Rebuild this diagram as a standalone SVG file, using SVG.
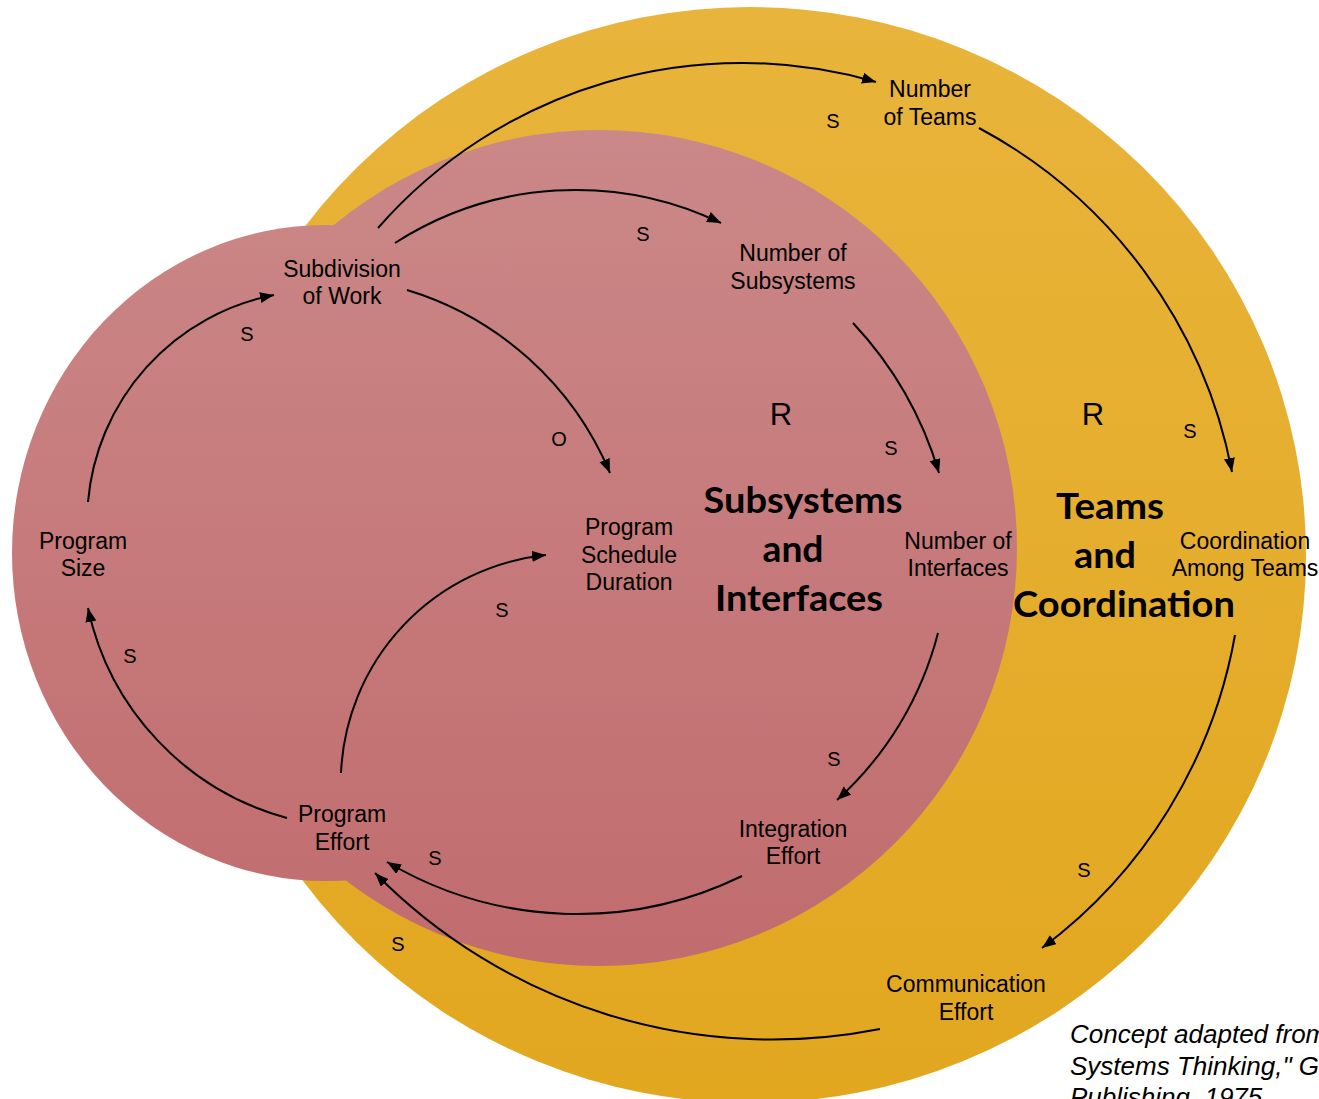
<svg xmlns="http://www.w3.org/2000/svg" width="1319" height="1099" viewBox="0 0 1319 1099">
<defs>
<linearGradient id="gy" gradientUnits="userSpaceOnUse" x1="0" y1="7" x2="0" y2="1103"><stop offset="0" stop-color="#E8B43B"/><stop offset="1" stop-color="#E2A71F"/></linearGradient>
<linearGradient id="gp" gradientUnits="userSpaceOnUse" x1="0" y1="130" x2="0" y2="966"><stop offset="0" stop-color="#CB8888"/><stop offset="1" stop-color="#C16C6E"/></linearGradient>
<marker id="ah" markerUnits="userSpaceOnUse" markerWidth="16" markerHeight="12" refX="14" refY="5.5" orient="auto"><path d="M0,0 L14,5.5 L0,11 z" fill="#000"/></marker>
<style>
.n{font-family:"Liberation Sans",Arial,sans-serif;font-size:23px;fill:#000;text-anchor:middle}
.p{font-family:"Liberation Sans",Arial,sans-serif;font-size:20px;fill:#000;text-anchor:middle}
.r{font-family:"Liberation Sans",Arial,sans-serif;font-size:31px;fill:#000;text-anchor:middle}
.t{font-family:Lato,"Open Sans",sans-serif;font-weight:bold;font-size:37px;fill:#000;text-anchor:middle}
.c{font-family:"Liberation Sans",Arial,sans-serif;font-style:italic;font-size:26px;fill:#000}
.k{fill:none;stroke:#000;stroke-width:2;marker-end:url(#ah)}
</style>
</defs>
<g id="background">
<ellipse cx="750" cy="555" rx="556" ry="548" fill="url(#gy)"/>
<circle cx="599" cy="548" r="418" fill="url(#gp)"/>
<ellipse cx="326" cy="553" rx="314" ry="328" fill="url(#gp)"/>
</g>
<g id="connectors">
<path class="k" d="M378,228 A483,483 0 0 1 876,82"/>
<path class="k" d="M979,128 A496,496 0 0 1 1232,472"/>
<path class="k" d="M1235,635 A499,499 0 0 1 1042,948"/>
<path class="k" d="M880,1029 A557,557 0 0 1 375,873"/>
<path class="k" d="M395,243 A335,335 0 0 1 721,223"/>
<path class="k" d="M407,290 A321,321 0 0 1 610,473"/>
<path class="k" d="M853,323 A375,375 0 0 1 939,473"/>
<path class="k" d="M938,633 A339,339 0 0 1 837,800"/>
<path class="k" d="M742,876 A375,375 0 0 1 387,862"/>
<path class="k" d="M341,773 A229,229 0 0 1 546,555"/>
<path class="k" d="M287,818 A278,278 0 0 1 88,608"/>
<path class="k" d="M88,502 A231,231 0 0 1 274,295"/>
</g>
<g id="polarity">
<text class="p" x="833" y="128">S</text>
<text class="p" x="643" y="241">S</text>
<text class="p" x="247" y="341">S</text>
<text class="p" x="891" y="455">S</text>
<text class="p" x="1190" y="438">S</text>
<text class="p" x="559" y="446">O</text>
<text class="p" x="502" y="617">S</text>
<text class="p" x="130" y="663">S</text>
<text class="p" x="834" y="766">S</text>
<text class="p" x="435" y="865">S</text>
<text class="p" x="398" y="951">S</text>
<text class="p" x="1084" y="877">S</text>
<text class="r" x="781" y="425">R</text>
<text class="r" x="1093" y="425">R</text>
</g>
<g id="loop-subsystems"><text class="t" x="803" y="513" textLength="199" lengthAdjust="spacingAndGlyphs">Subsystems</text><text class="t" x="793" y="562" textLength="61" lengthAdjust="spacingAndGlyphs">and</text><text class="t" x="799" y="611" textLength="168" lengthAdjust="spacingAndGlyphs">Interfaces</text></g>
<g id="loop-teams"><text class="t" x="1110" y="519" textLength="108" lengthAdjust="spacingAndGlyphs">Teams</text><text class="t" x="1105" y="568" textLength="62" lengthAdjust="spacingAndGlyphs">and</text><text class="t" x="1124" y="617" textLength="222" lengthAdjust="spacingAndGlyphs">Coordination</text></g>
<g id="number-of-teams"><text class="n" x="930" y="97">Number</text><text class="n" x="930" y="125">of Teams</text></g>
<g id="subdivision-of-work"><text class="n" x="342" y="277">Subdivision</text><text class="n" x="342" y="304">of Work</text></g>
<g id="number-of-subsystems"><text class="n" x="793" y="261">Number of</text><text class="n" x="793" y="289">Subsystems</text></g>
<g id="program-size"><text class="n" x="83" y="549">Program</text><text class="n" x="83" y="576">Size</text></g>
<g id="program-schedule-duration"><text class="n" x="629" y="535">Program</text><text class="n" x="629" y="563">Schedule</text><text class="n" x="629" y="590">Duration</text></g>
<g id="number-of-interfaces"><text class="n" x="958" y="549">Number of</text><text class="n" x="958" y="576">Interfaces</text></g>
<g id="coordination-among-teams"><text class="n" x="1245" y="549">Coordination</text><text class="n" x="1245" y="576">Among Teams</text></g>
<g id="program-effort"><text class="n" x="342" y="822">Program</text><text class="n" x="342" y="850">Effort</text></g>
<g id="integration-effort"><text class="n" x="793" y="837">Integration</text><text class="n" x="793" y="864">Effort</text></g>
<g id="communication-effort"><text class="n" x="966" y="992">Communication</text><text class="n" x="966" y="1020">Effort</text></g>
<g id="caption"><text class="c" x="1070" y="1043">Concept adapted from</text><text class="c" x="1070" y="1075">Systems Thinking," G</text><text class="c" x="1070" y="1106">Publishing, 1975</text></g>
</svg>
